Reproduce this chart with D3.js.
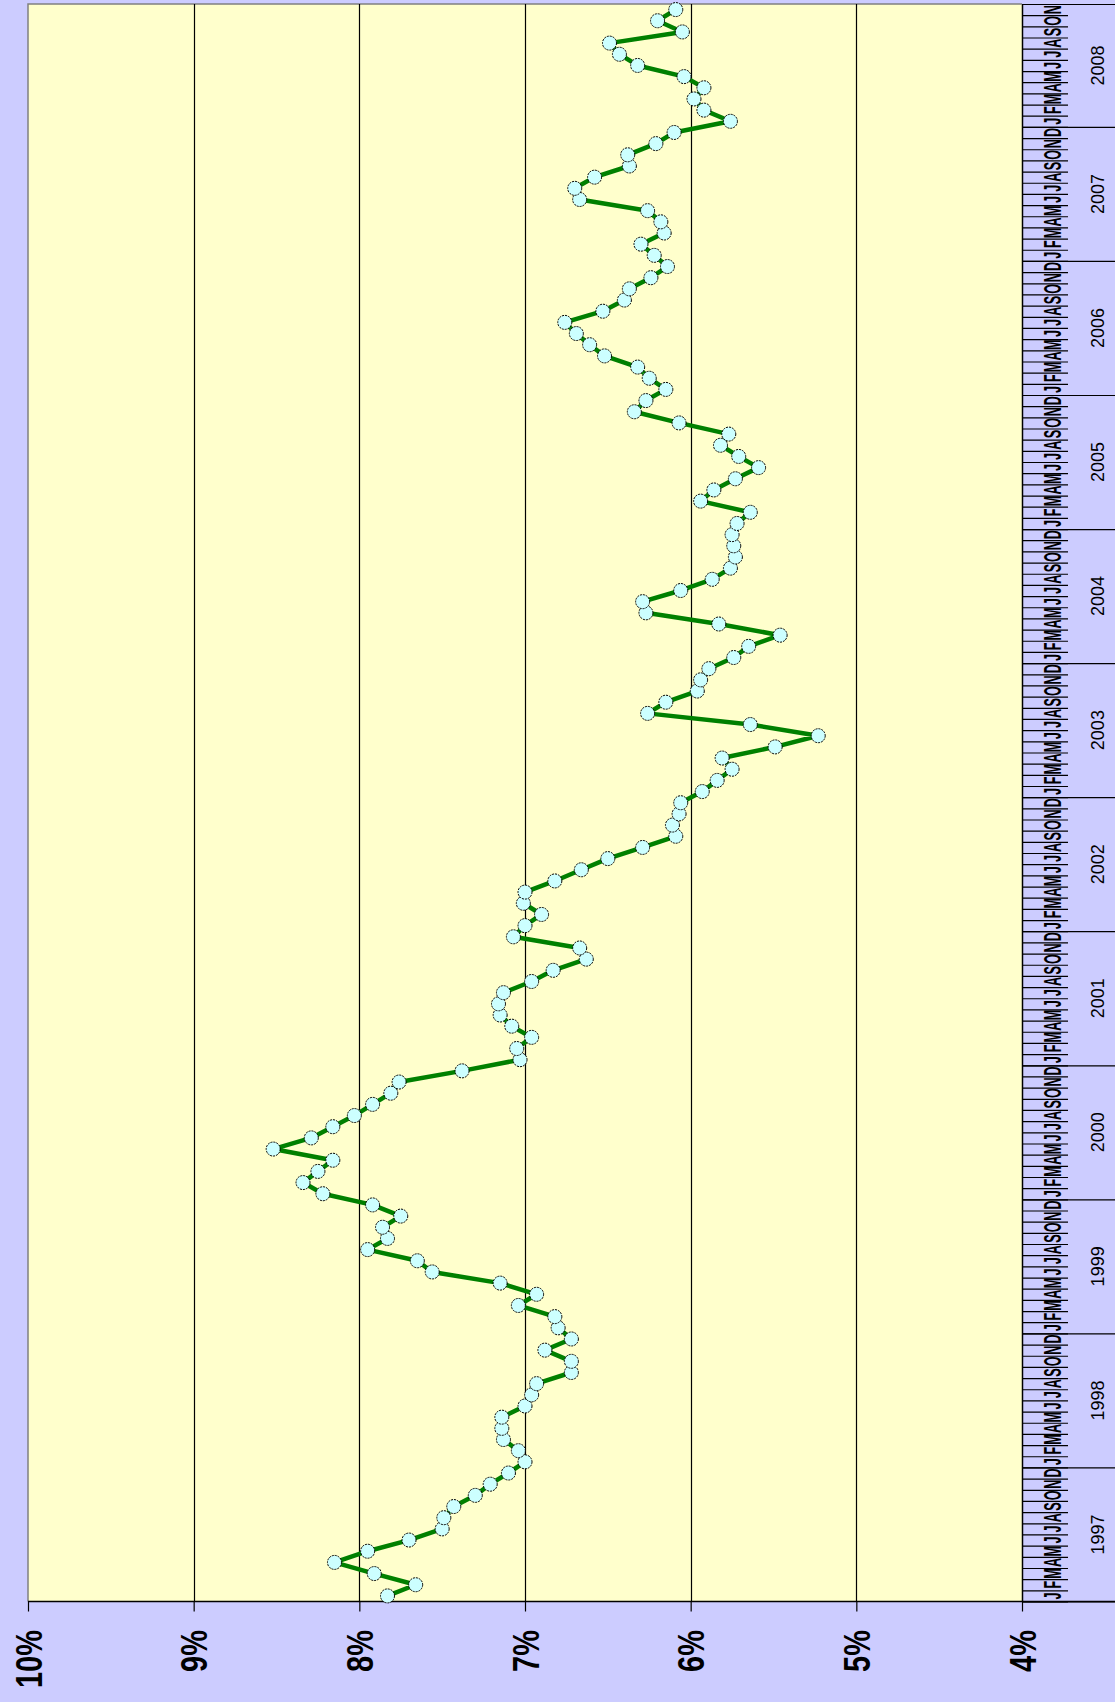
<!DOCTYPE html>
<html>
<head>
<meta charset="utf-8">
<script src="https://cdn.jsdelivr.net/npm/d3@7"></script>
<style>
  html, body { margin: 0; padding: 0; background: #ccccff; }
  svg { display: block; }
  text { font-family: "Liberation Sans", Arial, sans-serif; }
</style>
</head>
<body>
<div id="chart"></div>
<script>
  // Time axis labels
  const monthLetters = ["J", "F", "M", "A", "M", "J", "J", "A", "S", "O", "N", "D"];
  const years = [1997, 1998, 1999, 2000, 2001, 2002, 2003, 2004, 2005, 2006, 2007, 2008];
  const pctTicks = [10, 9, 8, 7, 6, 5, 4];

  // Monthly values (%), one array per year
  const rate1997 = [7.83, 7.66, 7.91, 8.15, 7.95, 7.70, 7.50, 7.49, 7.43, 7.30, 7.21, 7.10];
  const rate1998 = [7.00, 7.04, 7.13, 7.14, 7.14, 7.00, 6.96, 6.93, 6.72, 6.72, 6.88, 6.72];
  const rate1999 = [6.80, 6.82, 7.04, 6.93, 7.15, 7.56, 7.65, 7.95, 7.83, 7.86, 7.75, 7.92];
  const rate2000 = [8.22, 8.34, 8.25, 8.16, 8.52, 8.29, 8.16, 8.03, 7.92, 7.81, 7.76, 7.38];
  const rate2001 = [7.03, 7.05, 6.96, 7.08, 7.15, 7.16, 7.13, 6.96, 6.83, 6.63, 6.67, 7.07];
  const rate2002 = [7.00, 6.90, 7.01, 7.00, 6.82, 6.66, 6.50, 6.29, 6.09, 6.11, 6.07, 6.06];
  const rate2003 = [5.93, 5.84, 5.75, 5.81, 5.49, 5.23, 5.64, 6.26, 6.15, 5.96, 5.94, 5.89];
  const rate2004 = [5.74, 5.65, 5.46, 5.83, 6.27, 6.29, 6.06, 5.87, 5.76, 5.73, 5.74, 5.75];
  const rate2005 = [5.72, 5.64, 5.94, 5.86, 5.73, 5.59, 5.71, 5.82, 5.77, 6.07, 6.34, 6.27];
  const rate2006 = [6.15, 6.25, 6.32, 6.52, 6.61, 6.69, 6.76, 6.53, 6.40, 6.37, 6.24, 6.14];
  const rate2007 = [6.22, 6.30, 6.16, 6.18, 6.26, 6.67, 6.70, 6.58, 6.37, 6.38, 6.21, 6.10];
  const rate2008 = [5.76, 5.92, 5.98, 5.92, 6.04, 6.32, 6.43, 6.49, 6.05, 6.20, 6.09];

  const yearly = [rate1997, rate1998, rate1999, rate2000, rate2001, rate2002,
                  rate2003, rate2004, rate2005, rate2006, rate2007, rate2008];

  // Flatten into one point per month
  const data = [];
  yearly.forEach((arr, yi) => {
      arr.forEach((v, m) => {
          data.push({ i: data.length, year: years[yi], m: m, v: v });
      });
  });
  const n = data.length;

  const width = 1115, height = 1702;
  const plot = { left: 28, right: 1022, top: 4, bottom: 1601.5 };

  const svg = d3.select("#chart")
      .append("svg")
      .attr("width", width)
      .attr("height", height);

  svg.append("rect")
      .attr("width", width)
      .attr("height", height)
      .attr("fill", "#ccccff");

  // Value runs horizontally (10% at left), time runs upward
  const x = d3.scaleLinear()
      .domain([10, 4])
      .range([plot.left, plot.right]);

  const y = d3.scaleBand()
      .domain(d3.range(n))
      .range([plot.bottom, plot.top]);

  const yEdge = d3.scaleLinear()
      .domain([0, n])
      .range([plot.bottom, plot.top]);

  // Plot area
  svg.append("rect")
      .attr("x", plot.left)
      .attr("y", plot.top)
      .attr("width", plot.right - plot.left)
      .attr("height", plot.bottom - plot.top)
      .attr("fill", "#ffffcc");

  svg.append("path")
      .attr("d", `M${plot.left},${plot.bottom}V${plot.top}H${plot.right}`)
      .attr("fill", "none")
      .attr("stroke", "#808080")
      .attr("stroke-width", 1.5);

  // Gridlines
  svg.append("g")
      .selectAll("line")
      .data(pctTicks.slice(1, -1))
      .join("line")
      .attr("x1", d => Math.round(x(d)) + 0.5)
      .attr("x2", d => Math.round(x(d)) + 0.5)
      .attr("y1", plot.top)
      .attr("y2", plot.bottom)
      .attr("stroke", "#000")
      .attr("stroke-width", 1.2);

  // Value axis along the bottom
  const xAxis = svg.append("g")
      .attr("transform", `translate(0, ${plot.bottom})`)
      .call(d3.axisBottom(x)
          .tickValues(pctTicks)
          .tickSize(10)
          .tickSizeOuter(0)
          .tickFormat(d => d + "%"));

  xAxis.select(".domain").remove();
  xAxis.selectAll(".tick line").attr("stroke", "#000").attr("stroke-width", 1.2);
  // labels are drawn tall and narrow, as in the source
  xAxis.selectAll("text")
      .attr("transform", "rotate(-90) scale(1, 1.25)")
      .attr("x", -(1630 - plot.bottom))
      .attr("y", 0)
      .attr("dy", "0.36em")
      .attr("text-anchor", "end")
      .attr("fill", "#000")
      .style("font-size", "29px")
      .style("font-weight", "bold");

  svg.append("line")
      .attr("x1", plot.left)
      .attr("x2", width)
      .attr("y1", plot.bottom)
      .attr("y2", plot.bottom)
      .attr("stroke", "#000")
      .attr("stroke-width", 1.5);

  // Time axis on the right: month ticks and longer year ticks
  const tAxis = svg.append("g")
      .attr("transform", `translate(${plot.right}, 0)`);

  tAxis.append("g")
      .call(d3.axisRight(yEdge)
          .tickValues(d3.range(0, n + 1))
          .tickSize(46)
          .tickSizeOuter(0)
          .tickFormat(""))
      .call(g => g.select(".domain").attr("stroke-width", 1.5));

  const yearEdges = d3.range(0, n, 12).concat([n]);
  tAxis.append("g")
      .call(d3.axisRight(yEdge)
          .tickValues(yearEdges)
          .tickSize(width - plot.right)
          .tickSizeOuter(0)
          .tickFormat(""))
      .call(g => g.select(".domain").remove());

  tAxis.selectAll(".tick line").attr("stroke", "#000").attr("stroke-width", 1.2);

  // Month letters
  tAxis.append("g")
      .selectAll("text")
      .data(data)
      .join("text")
      .attr("transform", d => `translate(30, ${y(d.i) + y.bandwidth() / 2}) rotate(-90) scale(0.9, 1.7)`)
      .attr("text-anchor", "middle")
      .attr("dy", "0.36em")
      .style("font-size", "14px")
      .style("font-weight", "bold")
      .text(d => monthLetters[d.m]);

  // Year labels
  tAxis.append("g")
      .selectAll("text")
      .data(years)
      .join("text")
      .attr("transform", (d, k) => {
          const a = yEdge(k * 12), b = yEdge(Math.min(n, (k + 1) * 12));
          return `translate(76, ${(a + b) / 2}) rotate(-90)`;
      })
      .attr("text-anchor", "middle")
      .attr("dy", "0.36em")
      .style("font-size", "18px")
      .text(d => d);

  // Series line and markers
  const line = d3.line()
      .x(d => x(d.v))
      .y(d => y(d.i) + y.bandwidth() / 2);

  svg.append("path")
      .datum(data)
      .attr("d", line)
      .attr("fill", "none")
      .attr("stroke", "#008000")
      .attr("stroke-width", 4.5)
      .attr("stroke-linejoin", "round");

  svg.append("g")
      .selectAll("circle")
      .data(data)
      .join("circle")
      .attr("cx", d => x(d.v))
      .attr("cy", d => y(d.i) + y.bandwidth() / 2)
      .attr("r", 7)
      .attr("fill", "#ccffff")
      .attr("stroke", "#000")
      .attr("stroke-width", 1)
      .attr("stroke-dasharray", "2,1");
</script>
</body>
</html>
